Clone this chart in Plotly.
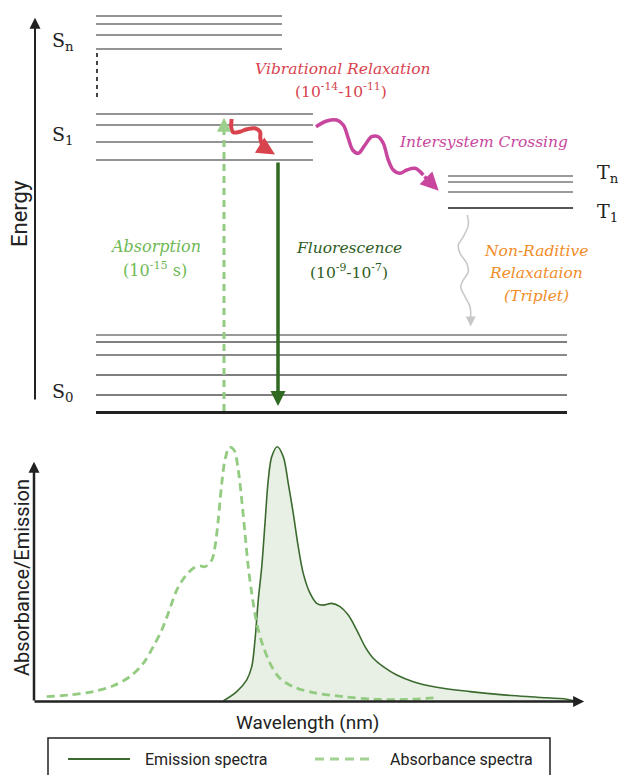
import plotly.graph_objects as go

# ------------------------------------------------------------------
# DATA
# ------------------------------------------------------------------
# Jablonski diagram energy levels (diagram units, 0 = top of figure)
SN_LEVELS = [16, 24, 35, 49]
S1_LEVELS = [114, 125, 142, 160]
TN_LEVELS = [176, 182, 192]
T1_LEVELS = [208]
S0_LEVELS = [335, 342, 355, 375, 395]
S0_GROUND = [412.5]

STATE_NAMES = ["S<sub>n</sub>", "S<sub>1</sub>", "S<sub>0</sub>", "T<sub>n</sub>", "T<sub>1</sub>"]

# wavy transition paths (diagram units)
VR_X = [231.7, 231.3, 233.3, 240.0, 246.7, 255.0, 260.0, 260.3, 262.0]
VR_Y = [119.0, 128.0, 132.3, 131.7, 129.3, 128.3, 131.7, 138.3, 145.0]
ISC_X = [316.0, 326.7, 336.7, 343.3, 348.3, 352.7, 358.3, 365.0, 371.7, 378.3,
         383.3, 388.3, 393.3, 400.0, 406.7, 415.0, 423.3]
ISC_Y = [126.7, 121.0, 120.0, 125.0, 138.3, 150.0, 153.3, 145.0, 136.7, 136.7,
         143.3, 160.0, 170.0, 173.3, 170.0, 168.3, 175.0]
NR_X = [467.3, 468.3, 463.3, 458.3, 460.0, 466.7, 468.3, 463.3, 460.7, 465.0, 470.0, 470.7]
NR_Y = [215.0, 225.0, 236.7, 245.0, 253.3, 263.3, 271.7, 280.0, 286.7, 296.7, 306.7, 316.7]

# Spectra (wavelength in nm, normalised intensity)
EM_WL = [451.4, 462.2, 470.2, 474.2, 476.8, 479.4, 482.2, 484.8, 487.4, 490.2,
         494.6, 499.4, 503.4, 507.4, 511.4, 515.4, 520.8, 526.2, 531.4, 538.2,
         544.8, 551.4, 558.2, 564.8, 571.4, 579.4, 590.2, 603.4, 622.2, 648.8,
         675.4, 702.2, 726.2, 732.8]
EM_I = [0.0, 0.037, 0.083, 0.135, 0.240, 0.397, 0.528, 0.699, 0.869, 0.961,
        1.0, 0.961, 0.856, 0.738, 0.607, 0.502, 0.424, 0.384, 0.377, 0.384,
        0.371, 0.338, 0.279, 0.214, 0.168, 0.135, 0.102, 0.076, 0.054, 0.037,
        0.024, 0.015, 0.007, 0.0]
AB_WL = [310.2, 328.8, 347.4, 363.4, 376.8, 387.4, 395.4, 402.2, 407.4, 414.2,
         420.8, 427.4, 432.8, 436.8, 442.2, 444.8, 447.4, 450.2, 452.8, 456.2,
         460.0, 463.4, 466.2, 468.8, 471.4, 474.2, 478.2, 483.4, 490.2, 496.8,
         507.4, 523.4, 547.8, 571.8, 598.8, 621.2]
AB_I = [0.017, 0.024, 0.037, 0.060, 0.096, 0.148, 0.214, 0.279, 0.345, 0.436,
        0.489, 0.522, 0.531, 0.528, 0.554, 0.607, 0.712, 0.856, 0.948, 0.998,
        0.987, 0.908, 0.790, 0.659, 0.528, 0.424, 0.306, 0.214, 0.135, 0.089,
        0.056, 0.033, 0.017, 0.007, 0.006, 0.013]

SERIES_NAMES = ["Emission spectra", "Absorbance spectra"]

# ------------------------------------------------------------------
# STYLE
# ------------------------------------------------------------------
W, H = 618, 775
SANS = "Roboto, Arial, sans-serif"
SERIF = "DejaVu Serif, serif"
C_RED = "#d8434e"
C_MAG = "#c8469e"
C_ORANGE = "#f28c28"
C_LGREEN = "#93cb81"
C_LGREEN_TXT = "#6fb955"
C_DGREEN = "#2f6a20"
C_DGREEN_TXT = "#2e5d24"
C_GREY_WAVE = "#c8c8c8"
C_AX = "#222222"
TXT = 15.5

fig = go.Figure()
shapes = []
annotations = []


def hline(y, x0, x1, color, width):
    shapes.append(dict(type="line", xref="x", yref="y", x0=x0, x1=x1, y0=y, y1=y,
                       line=dict(color=color, width=width), layer="below"))


def arrow(tip, tail, color, width, head_px, ref=("x", "y")):
    size = head_px / (5.0 * width)
    scale = size * width
    annotations.append(dict(
        x=tip[0], y=tip[1], ax=tail[0], ay=tail[1],
        xref=ref[0], yref=ref[1], axref=ref[0], ayref=ref[1],
        text="", showarrow=True, arrowhead=2, arrowsize=size,
        arrowwidth=width, arrowcolor=color, standoff=1.3 * scale))


def label(x, y, text, size, color, family, xanchor="center", angle=0):
    annotations.append(dict(x=x, y=y, xref="x", yref="y", text=text, showarrow=False,
                            xanchor=xanchor, yanchor="middle", textangle=angle,
                            font=dict(size=size, color=color, family=family)))


# ---------------- energy levels ----------------
for y in SN_LEVELS:
    hline(y, 96, 282, "#707070", 1.6)
for y in S1_LEVELS:
    hline(y, 96, 313, "#707070", 1.6)
for y in TN_LEVELS:
    hline(y, 448, 573, "#7a7a7a", 1.5)
for y in T1_LEVELS:
    hline(y, 448, 573, "#555555", 2.0)
s0_styles = [("#9a9a9a", 2.2), ("#555555", 1.4), ("#8a8a8a", 2.0), ("#555555", 1.4), ("#555555", 1.4)]
for y, (c, w) in zip(S0_LEVELS, s0_styles):
    hline(y, 96, 567, c, w)
for y in S0_GROUND:
    hline(y, 96, 567, "#222222", 3.0)

# dotted gap between Sn and S1
shapes.append(dict(type="line", xref="x", yref="y", x0=97, x1=97, y0=53, y1=101,
                   line=dict(color="#444444", width=2, dash="4px,4px")))

# state labels
label(63, 41, STATE_NAMES[0], 19, "#222222", SERIF)
label(63, 135, STATE_NAMES[1], 19, "#222222", SERIF)
label(63, 392, STATE_NAMES[2], 19, "#222222", SERIF)
label(608, 173, STATE_NAMES[3], 19, "#222222", SERIF)
label(607, 212, STATE_NAMES[4], 19, "#222222", SERIF)

# energy axis
arrow((35, 15), (35, 401), C_AX, 2.0, 11)
label(19, 214, "Energy", 22, C_AX, SANS, angle=-90)

# absorption (dashed up arrow)
fig.add_trace(go.Scatter(x=[224, 224], y=[411, 128], xaxis="x", yaxis="y", mode="lines",
                         line=dict(color=C_LGREEN, width=3, dash="7px,5px"),
                         hoverinfo="skip", showlegend=False))
arrow((224, 114), (224, 130), "#9ccf8b", 3.0, 14)

# fluorescence (solid down arrow)
arrow((278, 410), (278, 161), C_DGREEN, 3.5, 15)

# vibrational relaxation
fig.add_trace(go.Scatter(x=VR_X, y=VR_Y, xaxis="x", yaxis="y", mode="lines",
                         line=dict(color=C_RED, width=4, shape="spline"),
                         hoverinfo="skip", showlegend=False))
arrow((279, 157), (261, 146), C_RED, 4.0, 18)

# intersystem crossing
fig.add_trace(go.Scatter(x=ISC_X, y=ISC_Y, xaxis="x", yaxis="y", mode="lines",
                         line=dict(color=C_MAG, width=3.5, shape="spline"),
                         hoverinfo="skip", showlegend=False))
arrow((442, 194), (423, 175), C_MAG, 3.5, 18)

# non-radiative relaxation
fig.add_trace(go.Scatter(x=NR_X, y=NR_Y, xaxis="x", yaxis="y", mode="lines",
                         line=dict(color=C_GREY_WAVE, width=1.6, shape="spline"),
                         hoverinfo="skip", showlegend=False))
arrow((470.7, 329), (470.7, 316), C_GREY_WAVE, 1.6, 10)

# transition texts
label(343, 69, "<i>Vibrational Relaxation</i>", TXT, C_RED, SERIF)
label(341, 90, "(10<sup>-14</sup>-10<sup>-11</sup>)", TXT, C_RED, SERIF)
label(483, 142, "<i>Intersystem Crossing</i>", TXT, C_MAG, SERIF)
label(155, 246, "<i>Absorption</i>", TXT + 0.5, C_LGREEN_TXT, SERIF)
label(155, 269, "(10<sup>-15</sup> s)", TXT + 0.5, C_LGREEN_TXT, SERIF)
label(349, 248, "<i>Fluorescence</i>", TXT, C_DGREEN_TXT, SERIF)
label(349, 271, "(10<sup>-9</sup>-10<sup>-7</sup>)", TXT, C_DGREEN_TXT, SERIF)
label(536, 251, "<i>Non-Raditive</i>", TXT, C_ORANGE, SERIF)
label(536, 273, "<i>Relaxataion</i>", TXT, C_ORANGE, SERIF)
label(536, 296, "<i>(Triplet)</i>", TXT, C_ORANGE, SERIF)

# ---------------- spectra ----------------
fig.add_trace(go.Scatter(x=EM_WL, y=EM_I, xaxis="x2", yaxis="y2", mode="lines",
                         name=SERIES_NAMES[0], fill="tozeroy", fillcolor="#e8f0e5",
                         line=dict(color="#3b6a2e", width=1.6, shape="spline", smoothing=0.9),
                         showlegend=False))
fig.add_trace(go.Scatter(x=AB_WL, y=AB_I, xaxis="x2", yaxis="y2", mode="lines",
                         name=SERIES_NAMES[1],
                         line=dict(color=C_LGREEN, width=2.8, dash="8px,5px", shape="spline",
                                   smoothing=0.9),
                         showlegend=False))

# spectra axes (arrows)
arrow((34, 459), (34, 702), C_AX, 2.5, 11)
arrow((587, 701.5), (33, 701.5), C_AX, 2.5, 11)
label(22, 578, "Absorbance/Emission", 20, C_AX, SANS, angle=-90)
label(307, 722, "Wavelength (nm)", 19, C_AX, SANS)

# legend box
shapes.append(dict(type="rect", xref="x", yref="y", x0=48, x1=550, y0=738, y1=800,
                   line=dict(color="#222222", width=1.5), fillcolor="rgba(0,0,0,0)"))
shapes.append(dict(type="line", xref="x", yref="y", x0=68, x1=130, y0=759, y1=759,
                   line=dict(color="#3b6a2e", width=2)))
shapes.append(dict(type="line", xref="x", yref="y", x0=315, x1=375, y0=759, y1=759,
                   line=dict(color="#a2d294", width=3, dash="9px,6px")))
label(143, 759, SERIES_NAMES[0], 16, C_AX, SANS, xanchor="left")
label(388, 759, SERIES_NAMES[1], 16, C_AX, SANS, xanchor="left")

fig.update_layout(
    width=W, height=H,
    margin=dict(l=0, r=0, t=0, b=0),
    paper_bgcolor="white", plot_bgcolor="rgba(0,0,0,0)",
    xaxis=dict(domain=[0, 1], range=[0, W], visible=False, fixedrange=True),
    yaxis=dict(domain=[0, 1], range=[H, 0], visible=False, fixedrange=True),
    xaxis2=dict(domain=[34 / W, 590 / W], range=[300, 744.8], visible=False,
                anchor="y2", fixedrange=True),
    yaxis2=dict(domain=[(H - 701) / H, (H - 440) / H], range=[0, 261 / 254.3],
                visible=False, anchor="x2", fixedrange=True),
    shapes=shapes,
    annotations=annotations,
    showlegend=False,
)

fig.write_html("out.html",
               config={"displayModeBar": False},
               post_script="document.body.style.margin='0px';document.body.style.overflow='hidden';")
